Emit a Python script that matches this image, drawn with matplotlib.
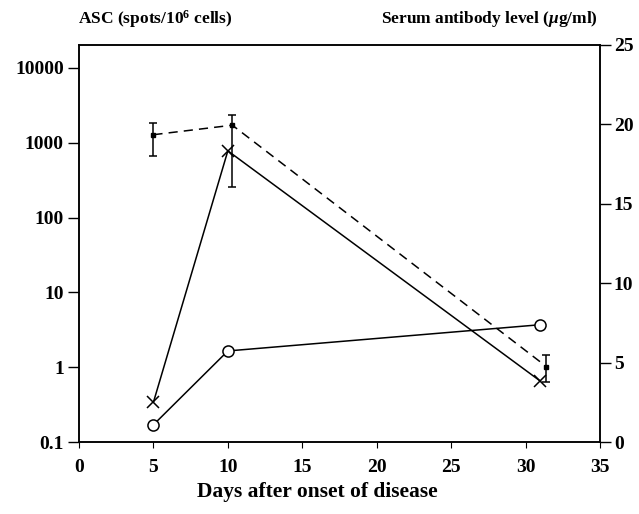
import matplotlib
matplotlib.use("Agg")
import matplotlib.pyplot as plt

# ASC (spots/10^6 cells), left log axis
cross_days = [5, 10, 31]
cross_asc = [0.34, 780, 0.65]
circle_days = [5, 10, 31]
circle_asc = [0.17, 1.65, 3.7]

# serum antibody level (ug/ml), right linear axis
serum_days = [5, 10.3, 31.4]
serum_val = [19.35, 19.95, 4.75]
serum_lo = [18.0, 16.05, 3.8]
serum_hi = [20.1, 20.6, 5.45]

xticks = [0, 5, 10, 15, 20, 25, 30, 35]
left_ticks = [0.1, 1, 10, 100, 1000, 10000]
left_labels = ["0.1", "1", "10", "100", "1000", "10000"]
right_ticks = [0, 5, 10, 15, 20, 25]

plt.rcParams.update({
    "font.family": "Liberation Serif",
    "font.weight": "bold",
    "mathtext.fontset": "custom",
    "mathtext.rm": "Liberation Serif:bold",
    "mathtext.bf": "Liberation Serif:bold",
    "mathtext.it": "Liberation Serif:italic:bold",
})

fig = plt.figure(figsize=(6.39, 5.14), dpi=100)
ax = fig.add_axes([0.1236, 0.140, 0.8154, 0.7725])
ax2 = ax.twinx()

ax.plot(cross_days, cross_asc, color="black", lw=1.1, marker="x", ms=8,
        mew=1.1, zorder=3)
ax.plot(circle_days, circle_asc, color="black", lw=1.1, marker="o", ms=8,
        mfc="white", mec="black", mew=1.1, zorder=4)

yerr = [[v - lo for v, lo in zip(serum_val, serum_lo)],
        [hi - v for v, hi in zip(serum_val, serum_hi)]]
ax2.errorbar(serum_days, serum_val, yerr=yerr, color="black", lw=1.1,
             ls=(0, (6, 4)), marker="s", ms=3.5, capsize=3, elinewidth=1.1,
             capthick=1.1)

ax.set_yscale("log")
ax.set_xlim(0, 35)
ax.set_ylim(0.1, 10 ** 4.307)
ax2.set_ylim(0, 25)

ax.set_xticks(xticks)
ax.set_xticklabels([str(t) for t in xticks], fontsize=14, fontweight="bold")
ax.set_yticks(left_ticks)
ax.set_yticklabels(left_labels, fontsize=14, fontweight="bold")
ax.minorticks_off()
ax2.set_yticks(right_ticks)
ax2.set_yticklabels([str(t) for t in right_ticks], fontsize=14, fontweight="bold")

ax.tick_params(axis="y", direction="out", length=8, width=1, pad=3)
ax.tick_params(axis="x", direction="out", length=4, width=0.8, pad=8)
ax2.tick_params(axis="y", direction="out", length=8, width=1, pad=2)

for a in (ax, ax2):
    for s in a.spines.values():
        s.set_linewidth(1.1)

fig.text(0.496, 0.043, "Days after onset of disease", fontsize=15.5,
         fontweight="bold", ha="center", va="center")
fig.text(0.122, 0.963, r"ASC (spots/10$^{6}$ cells)", fontsize=12.5,
         fontweight="bold", ha="left", va="center")
fig.text(0.936, 0.963, r"Serum antibody level ($\mu$g/ml)", fontsize=12.5,
         fontweight="bold", ha="right", va="center")

fig.savefig("out.png", dpi=100)
